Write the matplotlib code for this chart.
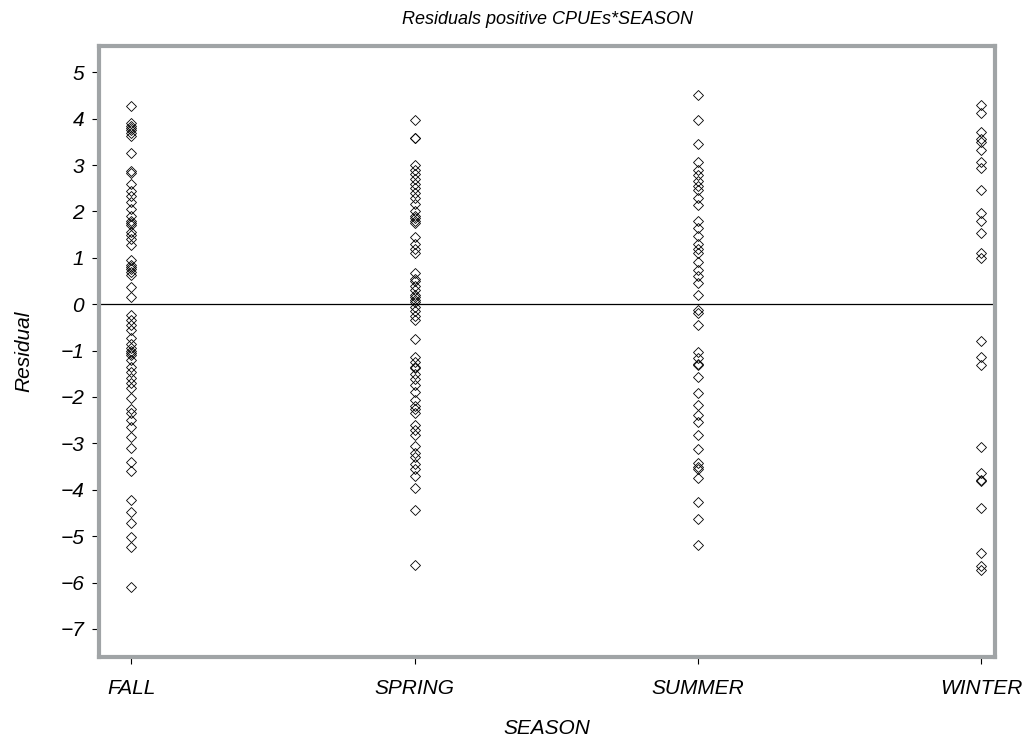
import numpy as np
from matplotlib import pyplot as plt

seasons = ["FALL", "SPRING", "SUMMER", "WINTER"]

fall = [4.27, 3.9, 3.85, 3.8, 3.75, 3.7, 3.62, 3.26, 2.87, 2.82, 2.59, 2.45, 2.33, 2.2,
        2.05, 1.9, 1.8, 1.75, 1.7, 1.55, 1.5, 1.4, 1.27, 0.95, 0.85, 0.8, 0.75, 0.7, 0.62,
        0.37, 0.15, -0.24, -0.35, -0.45, -0.56, -0.73, -0.85, -0.95, -1.0, -1.05, -1.1,
        -1.2, -1.35, -1.47, -1.6, -1.7, -1.8, -2.03, -2.25, -2.35, -2.5, -2.65, -2.87,
        -3.1, -3.4, -3.6, -4.22, -4.48, -4.72, -5.02, -5.24, -6.1]

spring = [3.97, 3.58, 3.58, 3.0, 2.9, 2.8, 2.7, 2.6, 2.5, 2.4, 2.28, 2.15, 2.0, 1.9, 1.85,
          1.8, 1.75, 1.44, 1.3, 1.2, 1.1, 0.67, 0.55, 0.5, 0.4, 0.3, 0.2, 0.15, 0.1, 0.05,
          -0.05, -0.15, -0.25, -0.34, -0.74, -1.13, -1.25, -1.35, -1.38, -1.5, -1.62, -1.75,
          -1.9, -2.07, -2.2, -2.25, -2.35, -2.6, -2.72, -2.83, -3.05, -3.2, -3.3, -3.45,
          -3.55, -3.7, -3.97, -4.44, -5.62]

summer = [4.5, 3.98, 3.45, 3.06, 2.9, 2.78, 2.65, 2.55, 2.46, 2.28, 2.13, 1.8, 1.65, 1.48,
          1.3, 1.2, 1.1, 0.9, 0.73, 0.6, 0.45, 0.19, -0.13, -0.19, -0.45, -1.03, -1.15,
          -1.28, -1.31, -1.57, -1.92, -2.18, -2.39, -2.54, -2.82, -3.13, -3.43, -3.5, -3.55,
          -3.75, -4.27, -4.63, -5.19]

winter = [4.29, 4.12, 3.71, 3.55, 3.49, 3.32, 3.06, 2.93, 2.46, 1.96, 1.8, 1.53, 1.1, 0.99,
          -0.8, -1.14, -1.31, -3.08, -3.64, -3.8, -3.82, -4.4, -5.37, -5.65, -5.72]

data = [fall, spring, summer, winter]

plt.rcParams['font.family'] = ['Liberation Sans', 'DejaVu Sans']
plt.rcParams['font.style'] = 'italic'

fig = plt.figure(figsize=(10.24, 7.46), dpi=100)
ax = fig.add_axes([0.097, 0.119, 0.875, 0.819])

for i, vals in enumerate(data):
    ax.plot(np.full(len(vals), i), vals, linestyle='none', marker='D', markersize=4.6,
            markerfacecolor='none', markeredgecolor='black', markeredgewidth=0.6)

ax.axhline(0, color='black', linewidth=0.9)

ax.set_xlim(-0.113, 3.05)
ax.set_ylim(-7.61, 5.56)
ax.set_xticks(range(len(seasons)))
ax.set_xticklabels(seasons, fontsize=15)
ax.set_yticks(range(-7, 6))
ax.set_yticklabels([str(v).replace('-', '\u2212') for v in range(-7, 6)], fontsize=15)
ax.tick_params(direction='out', length=5, width=0.8, color='black')
ax.tick_params(axis='x', pad=11)
ax.tick_params(axis='y', pad=6)

for s in ax.spines.values():
    s.set_color('#a0a4a6')
    s.set_linewidth(3)

ax.set_xlabel('SEASON', fontsize=15, labelpad=15)
ax.set_ylabel('Residual', fontsize=15, labelpad=19)
ax.set_title('Residuals positive CPUEs*SEASON', fontsize=13, pad=16)

fig.savefig('out.png')
